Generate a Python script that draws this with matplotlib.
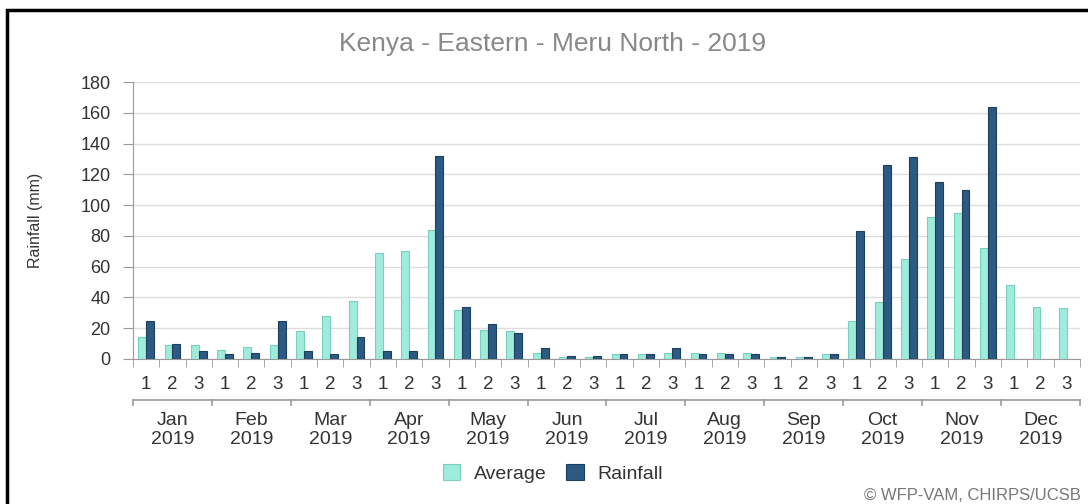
import matplotlib
matplotlib.use('Agg')
import matplotlib.pyplot as plt
import matplotlib.transforms as mtransforms
from matplotlib.patches import Rectangle
import numpy as np

plt.rcParams['font.family'] = ['Liberation Sans', 'DejaVu Sans']

months = ['Jan', 'Feb', 'Mar', 'Apr', 'May', 'Jun',
          'Jul', 'Aug', 'Sep', 'Oct', 'Nov', 'Dec']
dekads = ['1', '2', '3']
year = '2019'

average = [14, 9, 9, 6, 8, 9, 18, 28, 38, 69, 70, 84,
           32, 19, 18, 4, 1, 1, 3, 3, 4, 4, 4, 4,
           1, 1, 3, 25, 37, 65, 92, 95, 72, 48, 34, 33]
rainfall = [25, 10, 5, 3, 4, 25, 5, 3, 14, 5, 5, 132,
            34, 23, 17, 7, 2, 2, 3, 3, 7, 3, 3, 3,
            1, 1, 3, 83, 126, 131, 115, 110, 164, np.nan, np.nan, np.nan]

avg_col = '#9febdc'
avg_edge = '#7ad0bf'
rain_col = '#2c5a82'
rain_edge = '#1d3f5e'
txt = '#333333'

fig = plt.figure(figsize=(10.88, 5.04), dpi=100)
ax = fig.add_axes([0.1222, 0.2877, 0.8704, 0.5496])

n = len(average)
x = np.arange(n)
w = 0.3
ax.bar(x - w / 2, average, w, color=avg_col, edgecolor=avg_edge,
       linewidth=0.8, label='Average', zorder=3)
ax.bar(x + w / 2, rainfall, w, color=rain_col, edgecolor=rain_edge,
       linewidth=0.8, label='Rainfall', zorder=3)

ax.set_xlim(-0.5, n - 0.5)
ax.set_ylim(0, 180)
ax.set_yticks(range(0, 181, 20))
ax.yaxis.grid(True, color='#dddddd', linewidth=1)
ax.set_axisbelow(True)

for s in ['top', 'right']:
    ax.spines[s].set_visible(False)
ax.spines['left'].set_color('#999999')
ax.spines['bottom'].set_color('#999999')
ax.tick_params(axis='y', length=7, color='#999999', labelsize=13,
               labelcolor=txt, pad=9)

# dekad labels, ticks between groups
ax.set_xticks(x)
ax.set_xticklabels(dekads * len(months), fontsize=13.5, color=txt)
ax.tick_params(axis='x', length=0, pad=12)
ax.set_xticks(np.arange(-0.5, n, 1), minor=True)
ax.tick_params(axis='x', which='minor', length=6, color='#999999')

# month row
trans = mtransforms.blended_transform_factory(ax.transData, ax.transAxes)
ax.plot([-0.5, n - 0.5], [-0.147, -0.147], color='#999999', lw=1.2,
        transform=trans, clip_on=False)
for b in np.arange(-0.5, n, 3):
    ax.plot([b, b], [-0.147, -0.165], color='#999999', lw=1.2,
            transform=trans, clip_on=False)
for i, m in enumerate(months):
    ax.text(3 * i + 1, -0.19, m + '\n' + year, transform=trans,
            ha='center', va='top', fontsize=14, color=txt,
            linespacing=1.2)

ax.set_ylabel('Rainfall (mm)', fontsize=11.5, color=txt, labelpad=27)

fig.text(0.508, 0.913, 'Kenya - Eastern - Meru North - 2019',
         ha='center', va='center', fontsize=19, color='#888888')

fig.legend(loc='center', bbox_to_anchor=(0.508, 0.061), ncol=2,
           frameon=False, fontsize=14, handlelength=0.9, handleheight=0.9,
           columnspacing=1.0, handletextpad=0.7, labelcolor=txt)

fig.text(0.993, 0.017, '\u00a9 WFP-VAM, CHIRPS/UCSB', ha='right',
         va='center', fontsize=12, color='#777777')

fig.patches.append(Rectangle((0.0065, -0.05), 1.1, 1.03,
                             transform=fig.transFigure, fill=False,
                             edgecolor='black', linewidth=2.5))

fig.savefig('out.png', dpi=100)
